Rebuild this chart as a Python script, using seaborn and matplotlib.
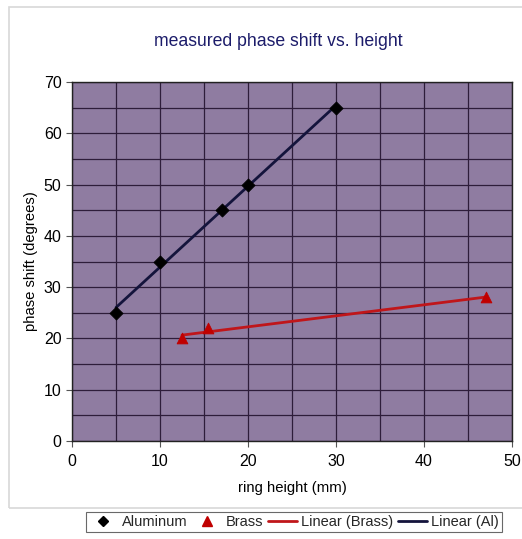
import numpy as np
import pandas as pd
import matplotlib
matplotlib.use("Agg")
import matplotlib.pyplot as plt
import seaborn as sns
from matplotlib.lines import Line2D
from matplotlib.patches import Rectangle

al_height = [5, 10, 17, 20, 30]
al_phase = [25, 35, 45, 50, 65]
brass_height = [12.5, 15.5, 47]
brass_phase = [20, 22, 28]

title = "measured phase shift vs. height"
xlabel = "ring height (mm)"
ylabel = "phase shift (degrees)"
legend_labels = ["Aluminum", "Brass", "Linear (Brass)", "Linear (Al)"]

sns.set_style("ticks")
plt.rcParams['font.family'] = ['Liberation Sans', 'DejaVu Sans']

al_df = pd.DataFrame({"h": al_height, "p": al_phase})
br_df = pd.DataFrame({"h": brass_height, "p": brass_phase})

fig = plt.figure(figsize=(5.22, 5.39), dpi=100)
fig.patch.set_facecolor("white")
ax = fig.add_axes([72/522, 1 - 441/539, (512-72)/522, (441-82)/539])
ax.set_facecolor("#8f7ca1")

al_line_c = "#14143c"
br_line_c = "#c0161a"

sns.regplot(data=al_df, x="h", y="p", ax=ax, ci=None, truncate=True,
            scatter=False, line_kws=dict(color=al_line_c, lw=2, zorder=3))
sns.regplot(data=br_df, x="h", y="p", ax=ax, ci=None, truncate=True,
            scatter=False, line_kws=dict(color=br_line_c, lw=2, zorder=3))
sns.scatterplot(data=al_df, x="h", y="p", ax=ax, marker="D", color="black",
                s=45, edgecolor="black", zorder=4, legend=False)
sns.scatterplot(data=br_df, x="h", y="p", ax=ax, marker="^", color="#c00000",
                s=60, edgecolor="#c00000", zorder=4, legend=False)

ax.set_xlim(0, 50)
ax.set_ylim(0, 70)
ax.set_xticks(np.arange(0, 51, 10))
ax.set_yticks(np.arange(0, 71, 10))
ax.set_xticks(np.arange(0, 51, 5), minor=True)
ax.set_yticks(np.arange(0, 71, 5), minor=True)
ax.grid(True, which="both", color="#2e1d3a", lw=0.9, zorder=1)
ax.set_axisbelow(True)
ax.tick_params(axis="both", which="major", labelsize=11.5, length=4, color="#555555",
               width=0.8, labelcolor="black")
ax.tick_params(axis="both", which="minor", length=0)
ax.tick_params(axis="x", pad=5)
for s in ax.spines.values():
    s.set_color("#222222")
    s.set_linewidth(1.0)

ax.set_xlabel(xlabel, fontsize=10.7, labelpad=9, color="black")
ax.set_ylabel(ylabel, fontsize=10.7, labelpad=4, color="black")
fig.text(278/522, 1 - 42/539, title, ha="center", va="center", fontsize=12.7, color="#1c1c6a")

handles = [
    Line2D([], [], marker="D", color="black", ls="none", markersize=5.5),
    Line2D([], [], marker="^", color="#c00000", ls="none", markersize=7),
    Line2D([], [], color=br_line_c, lw=2),
    Line2D([], [], color=al_line_c, lw=2),
]
leg = fig.legend(handles, legend_labels, loc="center", bbox_to_anchor=(294/522, 1 - 522/539),
                 ncol=4, frameon=True, fancybox=False, fontsize=10.5, handlelength=2.0,
                 handletextpad=0.3, columnspacing=0.3, borderpad=0.2, edgecolor="#444444")
leg.get_frame().set_linewidth(0.8)

fig.patches.append(Rectangle((9/522, 1 - 508/539), 1.2, (508-7)/539, transform=fig.transFigure,
                             fill=False, edgecolor="#d8d8d8", lw=1.2, zorder=0))

fig.savefig("out.png", dpi=100)
